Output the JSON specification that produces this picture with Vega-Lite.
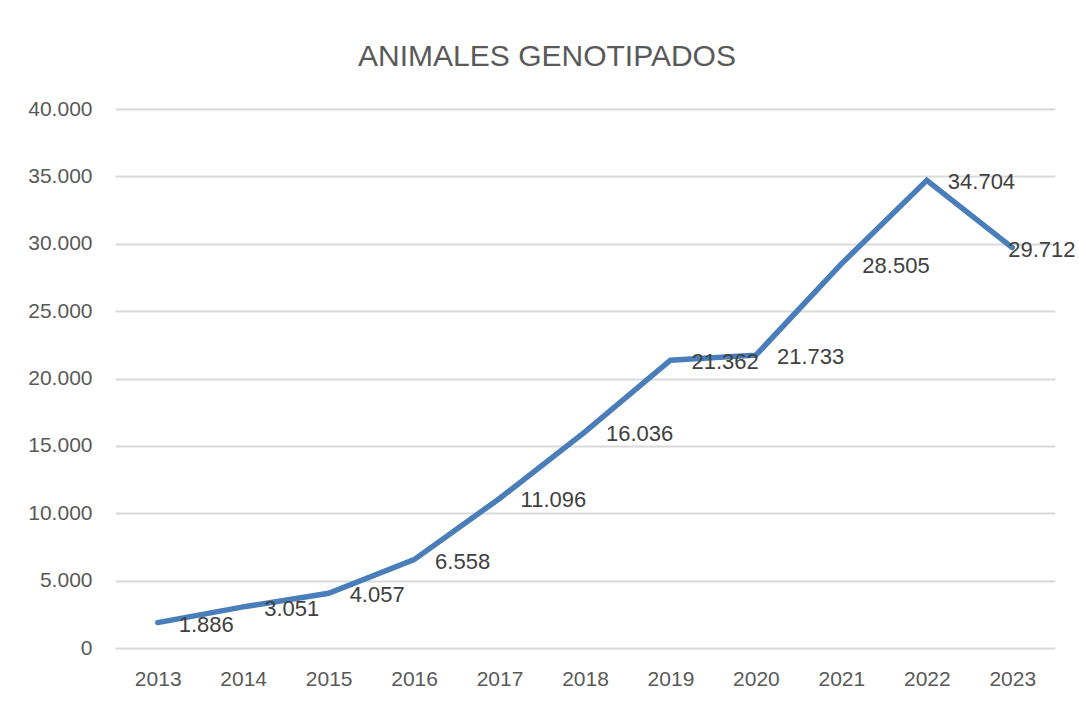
{
  "$schema": "https://vega.github.io/schema/vega-lite/v6.json",
  "width": 940,
  "height": 539,
  "autosize": {"type": "none"},
  "padding": {"left": 115, "top": 109, "right": 24, "bottom": 54},
  "background": "white",
  "config": {
    "locale": {"number": {"decimal": ",", "thousands": ".", "grouping": [3], "currency": ["", " €"]}},
    "view": {"stroke": null},
    "font": "Liberation Sans"
  },
  "title": {
    "text": "ANIMALES GENOTIPADOS",
    "font": "Liberation Sans",
    "fontSize": 30,
    "fontWeight": "normal",
    "color": "#595959",
    "anchor": "middle",
    "dx": -38,
    "baseline": "alphabetic",
    "offset": 2
  },
  "data": {
    "values": [
      {"year": "2013", "value": 1886},
      {"year": "2014", "value": 3051},
      {"year": "2015", "value": 4057},
      {"year": "2016", "value": 6558},
      {"year": "2017", "value": 11096},
      {"year": "2018", "value": 16036},
      {"year": "2019", "value": 21362},
      {"year": "2020", "value": 21733},
      {"year": "2021", "value": 28505},
      {"year": "2022", "value": 34704},
      {"year": "2023", "value": 29712}
    ]
  },
  "encoding": {
    "x": {
      "field": "year",
      "type": "ordinal",
      "scale": {"type": "point", "padding": 0.5},
      "axis": {
        "title": null,
        "labelAngle": 0,
        "domain": false,
        "ticks": false,
        "tickSize": 0,
        "grid": false,
        "labelPadding": 20,
        "labelFontSize": 21,
        "labelColor": "#595959",
        "labelFont": "Liberation Sans"
      }
    },
    "y": {
      "field": "value",
      "type": "quantitative",
      "scale": {"domain": [0, 40000], "nice": false},
      "axis": {
        "title": null,
        "values": [0, 5000, 10000, 15000, 20000, 25000, 30000, 35000, 40000],
        "format": ",d",
        "domain": false,
        "ticks": false,
        "tickSize": 0,
        "labelPadding": 23,
        "labelFontSize": 21,
        "labelColor": "#595959",
        "labelFont": "Liberation Sans",
        "gridColor": "#d9d9d9",
        "gridWidth": 2
      }
    }
  },
  "layer": [
    {
      "mark": {"type": "line", "color": "#4a7ebb", "strokeWidth": 5.5, "strokeJoin": "miter", "strokeCap": "round"}
    },
    {
      "transform": [{"filter": "datum.year != '2023'"}],
      "mark": {"type": "text", "align": "left", "baseline": "middle", "dx": 21, "dy": 2, "fontSize": 22, "color": "#404040", "font": "Liberation Sans"},
      "encoding": {"text": {"field": "value", "type": "quantitative", "format": ",d"}}
    },
    {
      "transform": [{"filter": "datum.year == '2023'"}],
      "mark": {"type": "text", "align": "left", "baseline": "middle", "dx": -4, "dy": 2, "fontSize": 22, "color": "#404040", "font": "Liberation Sans"},
      "encoding": {"text": {"field": "value", "type": "quantitative", "format": ",d"}}
    }
  ]
}
